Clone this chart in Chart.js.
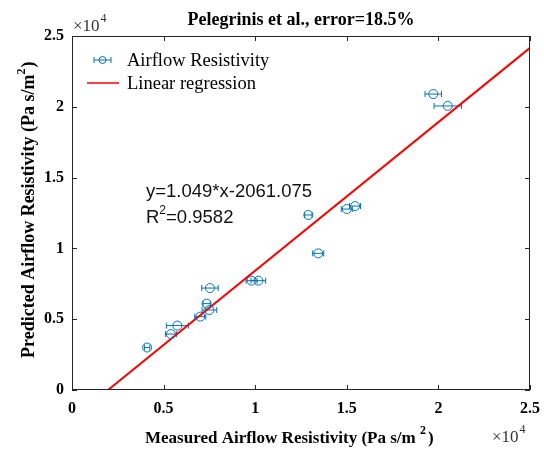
<!DOCTYPE html>
<html>
<head>
<meta charset="utf-8">
<script src="https://cdn.jsdelivr.net/npm/chart.js@4.4.1/dist/chart.umd.min.js"></script>
<style>
  body { margin: 0; background: #fff; }
  #wrap { width: 544px; height: 450px; }
</style>
</head>
<body>
<div id="wrap"><canvas id="chart" width="544" height="450"></canvas></div>
<script>
// values in units of 1e4 Pa s/m^2 (axes are scaled x10^4)
const measured  = [0.41, 0.54, 0.575, 0.70, 0.75, 0.735, 0.753, 0.98, 1.017, 1.344, 1.29, 1.50, 1.545, 1.972, 2.051];
const predicted = [0.30, 0.395, 0.455, 0.518, 0.565, 0.61, 0.72, 0.772, 0.772, 0.965, 1.236, 1.278, 1.299, 2.09, 2.006];
const xError    = [0.015, 0.03, 0.06, 0.03, 0.04, 0.02, 0.045, 0.03, 0.04, 0.03, 0.02, 0.03, 0.03, 0.045, 0.075];
const slope = 1.049;
const intercept = -0.2061075;
const xTicks = [0, 0.5, 1, 1.5, 2, 2.5];
const yTicks = [0, 0.5, 1, 1.5, 2, 2.5];

const BLUE = '#0072BD';
const SERIF = '"Liberation Serif", "Times New Roman", serif';
const SANS = '"Liberation Sans", Arial, sans-serif';

const points = measured.map((m, i) => ({ x: m, y: predicted[i] }));
const x0 = -intercept / slope;
const regLine = [{ x: x0, y: 0 }, { x: 2.5, y: slope * 2.5 + intercept }];

// draws horizontal error bars, box, inner ticks and the extra texts
const decorPlugin = {
    id: 'decor',
    beforeDatasetsDraw(chart) {
        const ctx = chart.ctx;
        const xs = chart.scales.x, ys = chart.scales.y;
        ctx.save();
        ctx.strokeStyle = BLUE;
        ctx.lineWidth = 1;
        points.forEach((p, i) => {
            const xl = xs.getPixelForValue(p.x - xError[i]);
            const xr = xs.getPixelForValue(p.x + xError[i]);
            const yp = ys.getPixelForValue(p.y);
            ctx.beginPath();
            ctx.moveTo(xl, yp); ctx.lineTo(xr, yp);
            ctx.moveTo(xl, yp - 3); ctx.lineTo(xl, yp + 3);
            ctx.moveTo(xr, yp - 3); ctx.lineTo(xr, yp + 3);
            ctx.stroke();
        });
        ctx.restore();
    },
    afterDraw(chart) {
        const ctx = chart.ctx;
        const a = chart.chartArea;
        const xs = chart.scales.x, ys = chart.scales.y;
        ctx.save();

        // box
        ctx.strokeStyle = '#262626';
        ctx.lineWidth = 1;
        ctx.strokeRect(a.left + 0.5, a.top + 0.5, a.right - a.left - 1, a.bottom - a.top - 1);

        // inner ticks on all sides
        ctx.beginPath();
        xTicks.forEach(t => {
            const px = Math.round(xs.getPixelForValue(t)) + 0.5;
            ctx.moveTo(px, a.bottom); ctx.lineTo(px, a.bottom - 5);
            ctx.moveTo(px, a.top); ctx.lineTo(px, a.top + 5);
        });
        yTicks.forEach(t => {
            const py = Math.round(ys.getPixelForValue(t)) + 0.5;
            ctx.moveTo(a.left, py); ctx.lineTo(a.left + 5, py);
            ctx.moveTo(a.right, py); ctx.lineTo(a.right - 5, py);
        });
        ctx.stroke();

        ctx.fillStyle = '#000';
        // title
        ctx.font = 'bold 18px ' + SERIF;
        ctx.textAlign = 'center';
        ctx.textBaseline = 'middle';
        ctx.fillText('Pelegrinis et al., error=18.5%', 301, 20);

        // x10^4 exponents
        const expo = (x, y) => {
            ctx.textAlign = 'left';
            ctx.textBaseline = 'alphabetic';
            ctx.fillStyle = '#333';
            ctx.font = '17px ' + SERIF;
            ctx.fillText('\u00d710', x, y);
            const w = ctx.measureText('\u00d710').width;
            ctx.font = '12px ' + SERIF;
            ctx.fillText('4', w + x + 1, y - 9);
        };
        expo(73, 31);
        expo(492, 442);

        // axis titles
        ctx.fillStyle = '#000';
        ctx.font = 'bold 17px ' + SERIF;
        ctx.textAlign = 'left';
        ctx.textBaseline = 'alphabetic';
        const xt = 'Measured Airflow Resistivity (Pa s/m ';
        const xtw = ctx.measureText(xt).width;
        const xStart = 145;
        ctx.fillText(xt, xStart, 443);
        ctx.font = 'bold 12px ' + SERIF;
        ctx.fillText('2', xStart + xtw, 434);
        const w2 = ctx.measureText('2').width;
        ctx.font = 'bold 17px ' + SERIF;
        ctx.fillText(')', xStart + xtw + w2 + 2, 443);

        ctx.save();
        ctx.translate(34, 208);
        ctx.rotate(-Math.PI / 2);
        ctx.font = 'bold 18px ' + SERIF;
        const yt = 'Predicted Airflow Resistivity (Pa s/m';
        const ytw = ctx.measureText(yt).width;
        const ys0 = -150;
        ctx.fillText(yt, ys0, 0);
        ctx.font = 'bold 12px ' + SERIF;
        ctx.fillText('2', ys0 + ytw, -9);
        ctx.font = 'bold 18px ' + SERIF;
        ctx.fillText(')', ys0 + ytw + 7, 0);
        ctx.restore();

        // legend inside plot
        ctx.font = '18.5px ' + SERIF;
        ctx.textBaseline = 'middle';
        ctx.fillStyle = '#000';
        const ly1 = 60, ly2 = 83;
        ctx.strokeStyle = BLUE;
        ctx.beginPath();
        ctx.moveTo(94, ly1); ctx.lineTo(111, ly1);
        ctx.moveTo(94, ly1 - 3); ctx.lineTo(94, ly1 + 3);
        ctx.moveTo(111, ly1 - 3); ctx.lineTo(111, ly1 + 3);
        ctx.stroke();
        ctx.beginPath();
        ctx.arc(102.5, ly1, 3.5, 0, Math.PI * 2);
        ctx.stroke();
        ctx.fillText('Airflow Resistivity', 127, ly1 + 1);
        ctx.strokeStyle = '#ff0000';
        ctx.lineWidth = 1.5;
        ctx.beginPath();
        ctx.moveTo(87, ly2); ctx.lineTo(119, ly2);
        ctx.stroke();
        ctx.fillText('Linear regression', 127, ly2 + 1);

        // regression annotation
        ctx.font = '18.5px ' + SANS;
        ctx.textBaseline = 'alphabetic';
        ctx.fillStyle = '#111';
        ctx.fillText('y=1.049*x-2061.075', 146, 197);
        ctx.fillText('R', 146, 223);
        const rw = ctx.measureText('R').width;
        ctx.font = '12px ' + SANS;
        ctx.fillText('2', 146 + rw, 214);
        const tw = ctx.measureText('2').width;
        ctx.font = '18.5px ' + SANS;
        ctx.fillText('=0.9582', 146 + rw + tw, 223);

        ctx.restore();
    }
};

new Chart(document.getElementById('chart'), {
    type: 'scatter',
    data: {
        datasets: [
            {
                label: 'Airflow Resistivity',
                data: points,
                borderColor: BLUE,
                backgroundColor: 'rgba(0,0,0,0)',
                pointRadius: 4.5,
                pointBorderWidth: 1,
                pointHoverRadius: 4.5
            },
            {
                label: 'Linear regression',
                type: 'line',
                data: regLine,
                borderColor: '#ff0000',
                borderWidth: 2,
                pointRadius: 0,
                fill: false
            }
        ]
    },
    options: {
        responsive: false,
        animation: false,
        events: [],
        layout: { padding: { left: 0, top: 36, right: 14, bottom: 0 } },
        plugins: {
            legend: { display: false },
            tooltip: { enabled: false }
        },
        scales: {
            x: {
                type: 'linear',
                min: 0, max: 2.5,
                afterBuildTicks: s => { s.ticks = xTicks.map(v => ({ value: v })); },
                afterFit: s => { s.height = 60; s.paddingLeft = 0; s.paddingRight = 0; },
                grid: { display: false, drawTicks: false },
                border: { display: false },
                ticks: {
                    padding: 9,
                    color: '#000',
                    font: { family: SERIF, size: 16, weight: 'bold' },
                    maxRotation: 0,
                    callback: v => String(v)
                }
            },
            y: {
                type: 'linear',
                min: 0, max: 2.5,
                afterBuildTicks: s => { s.ticks = yTicks.map(v => ({ value: v })); },
                afterFit: s => { s.width = 72; s.paddingTop = 0; s.paddingBottom = 0; },
                grid: { display: false, drawTicks: false },
                border: { display: false },
                ticks: {
                    padding: 8,
                    color: '#000',
                    font: { family: SERIF, size: 16, weight: 'bold' },
                    callback: v => String(v)
                }
            }
        }
    },
    plugins: [decorPlugin]
});
</script>
</body>
</html>
